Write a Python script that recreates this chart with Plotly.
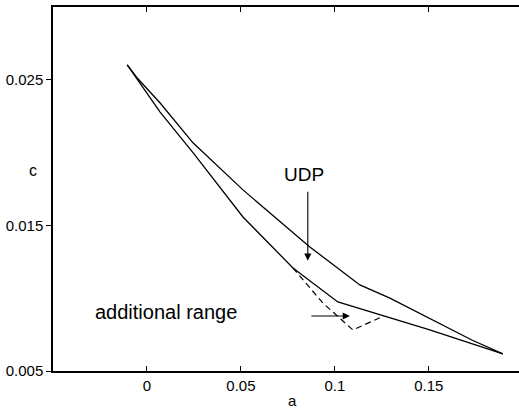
import plotly.graph_objects as go

# Upper curve
a_upper = [-0.0105, -0.0048, 0.0069, 0.0245, 0.0511, 0.0867, 0.1133, 0.1293, 0.1729, 0.1894]
c_upper = [0.02603, 0.02507, 0.02342, 0.02067, 0.01744, 0.01352, 0.01091, 0.0100, 0.00713, 0.00617]

# Lower curve
a_lower = [-0.0105, -0.0048, 0.0069, 0.0245, 0.0399, 0.0511, 0.0777, 0.1016, 0.1505, 0.1894]
c_lower = [0.02603, 0.0250, 0.0228, 0.0200, 0.01744, 0.01558, 0.01208, 0.00974, 0.00782, 0.00617]

# Additional range (dashed)
a_add = [0.0777, 0.0936, 0.1096, 0.1260]
c_add = [0.01208, 0.00967, 0.00782, 0.00878]

x_ticks = [0, 0.05, 0.1, 0.15]
x_ticktext = ["0", "0.05", "0.1", "0.15"]
y_ticks = [0.005, 0.015, 0.025]
y_ticktext = ["0.005", "0.015", "0.025"]

FONT = "Liberation Sans, Arial, Helvetica, sans-serif"

fig = go.Figure()
line = dict(color="black", width=1.3)
fig.add_trace(go.Scatter(x=a_upper, y=c_upper, mode="lines", line=line, showlegend=False))
fig.add_trace(go.Scatter(x=a_lower, y=c_lower, mode="lines", line=line, showlegend=False))
fig.add_trace(go.Scatter(x=a_add, y=c_add, mode="lines",
                         line=dict(color="black", width=1.2, dash="6px,4px"), showlegend=False))

# Text labels and arrows
fig.add_annotation(x=0.0835, y=0.01847, text="UDP", showarrow=False,
                   font=dict(family=FONT, size=19, color="black"))
fig.add_annotation(x=0.0856, y=0.01258, ax=0.0856, ay=0.01742, axref="x", ayref="y",
                   xref="x", yref="y", text="", showarrow=True, arrowhead=2,
                   arrowsize=1.3, arrowwidth=1.1, arrowcolor="black")
fig.add_annotation(x=0.0101, y=0.00906, text="additional range", showarrow=False,
                   font=dict(family=FONT, size=20, color="black"))
fig.add_annotation(x=0.1080, y=0.00878, ax=0.0867, ay=0.00878, axref="x", ayref="y",
                   xref="x", yref="y", text="", showarrow=True, arrowhead=2,
                   arrowsize=1.3, arrowwidth=1.1, arrowcolor="black")

# Axis titles
fig.add_annotation(x=-20 / 466, y=1 - (170 - 7) / 364, xref="paper", yref="paper",
                   xanchor="center", yanchor="middle", text="c", showarrow=False,
                   font=dict(family=FONT, size=16, color="black"))
fig.add_annotation(x=(292 - 53) / 466, y=-(400 - 371) / 364, xref="paper", yref="paper",
                   xanchor="center", yanchor="middle", borderpad=0,
                   text="a", showarrow=False, font=dict(family=FONT, size=15, color="black"))

fig.update_layout(
    width=519, height=410,
    margin=dict(l=53, r=0, t=7, b=39),
    paper_bgcolor="white", plot_bgcolor="white",
    font=dict(family=FONT, size=15, color="black"),
    showlegend=False,
)

fig.update_xaxes(range=[-0.05, 0.198], tickvals=x_ticks, ticktext=x_ticktext,
                 ticks="inside", ticklen=5, tickcolor="black", tickwidth=1,
                 showline=True, linecolor="black", linewidth=1.5, mirror="ticks",
                 showgrid=False, zeroline=False,
                 tickfont=dict(family=FONT, size=15, color="black"))
fig.update_yaxes(range=[0.005, 0.030], tickvals=y_ticks, ticktext=y_ticktext,
                 ticks="outside", ticklen=5, tickcolor="black", tickwidth=1,
                 showline=True, linecolor="black", linewidth=1.5,
                 showgrid=False, zeroline=False,
                 tickfont=dict(family=FONT, size=15, color="black"))

fig.write_html("out.html")
